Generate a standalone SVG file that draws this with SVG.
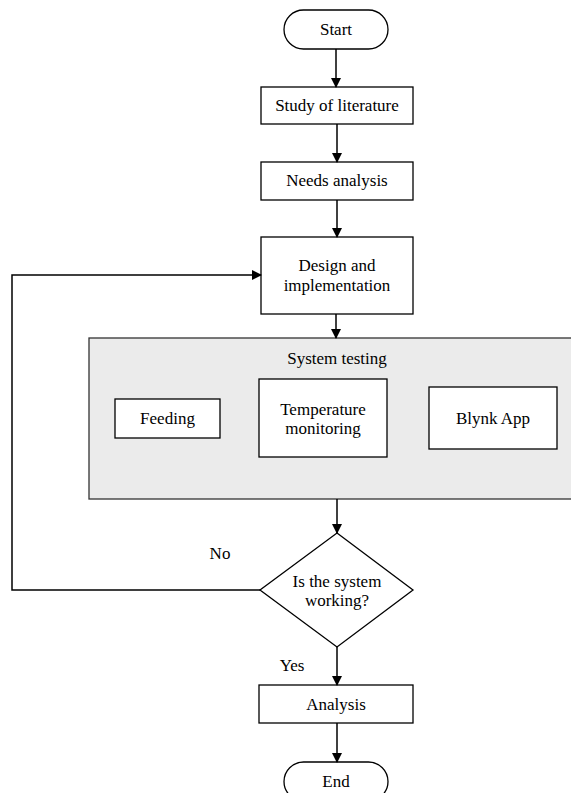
<svg xmlns="http://www.w3.org/2000/svg" width="571" height="793" viewBox="0 0 571 793">
<style>
.b{fill:#fff;stroke:#000;stroke-width:1.3}
.p{fill:#ebebeb;stroke:#333;stroke-width:1.3}
.t{font-family:"Liberation Serif","Times New Roman",serif;font-size:17px;fill:#000;text-anchor:middle}
.c{fill:none;stroke:#000;stroke-width:1.5}
</style>
<defs>
<marker id="ah" markerWidth="10" markerHeight="10" refX="9" refY="5" orient="auto" markerUnits="userSpaceOnUse">
<path d="M0,0 L10,5 L0,10 Z" fill="#000"/>
</marker>
</defs>
<g id="start"><rect class="b" x="284" y="10" width="104" height="39" rx="19.5"/><text class="t" x="336" y="35">Start</text></g>
<g id="study"><rect class="b" x="261" y="87" width="152" height="37"/><text class="t" x="337" y="111">Study of literature</text></g>
<g id="needs"><rect class="b" x="261" y="162" width="152" height="38"/><text class="t" x="337" y="186">Needs analysis</text></g>
<g id="design"><rect class="b" x="261" y="237" width="152" height="77"/><text class="t" x="337" y="271">Design and</text><text class="t" x="337" y="291">implementation</text></g>
<g id="testing"><rect class="p" x="89" y="338" width="500" height="161"/><text class="t" x="337" y="364">System testing</text></g>
<g id="feeding"><rect class="b" x="115" y="399" width="105" height="39"/><text class="t" x="167.5" y="424">Feeding</text></g>
<g id="temp"><rect class="b" x="259" y="379" width="128" height="78"/><text class="t" x="323" y="415">Temperature</text><text class="t" x="323" y="434">monitoring</text></g>
<g id="blynk"><rect class="b" x="429" y="387" width="128" height="62"/><text class="t" x="493" y="424">Blynk App</text></g>
<g id="decision"><polygon class="b" points="337,533 413,590 337,647 260,590"/><text class="t" x="337" y="587">Is the system</text><text class="t" x="337" y="606">working?</text></g>
<g id="analysis"><rect class="b" x="259" y="685" width="154" height="38"/><text class="t" x="336" y="710">Analysis</text></g>
<g id="end"><rect class="b" x="284" y="762" width="104" height="39" rx="19.5"/><text class="t" x="336" y="787">End</text></g>
<g id="connectors">
<line class="c" x1="336" y1="49" x2="336" y2="87" marker-end="url(#ah)"/>
<line class="c" x1="337" y1="124" x2="337" y2="162" marker-end="url(#ah)"/>
<line class="c" x1="337" y1="200" x2="337" y2="237" marker-end="url(#ah)"/>
<line class="c" x1="336" y1="314" x2="336" y2="338" marker-end="url(#ah)"/>
<line class="c" x1="337" y1="499" x2="337" y2="533" marker-end="url(#ah)"/>
<polyline class="c" points="260,590 12,590 12,275 261,275" marker-end="url(#ah)"/>
<line class="c" x1="337" y1="647" x2="337" y2="685" marker-end="url(#ah)"/>
<line class="c" x1="337" y1="723" x2="337" y2="762" marker-end="url(#ah)"/>
<text class="t" x="220" y="559">No</text>
<text class="t" x="292" y="671">Yes</text>
</g>
</svg>
